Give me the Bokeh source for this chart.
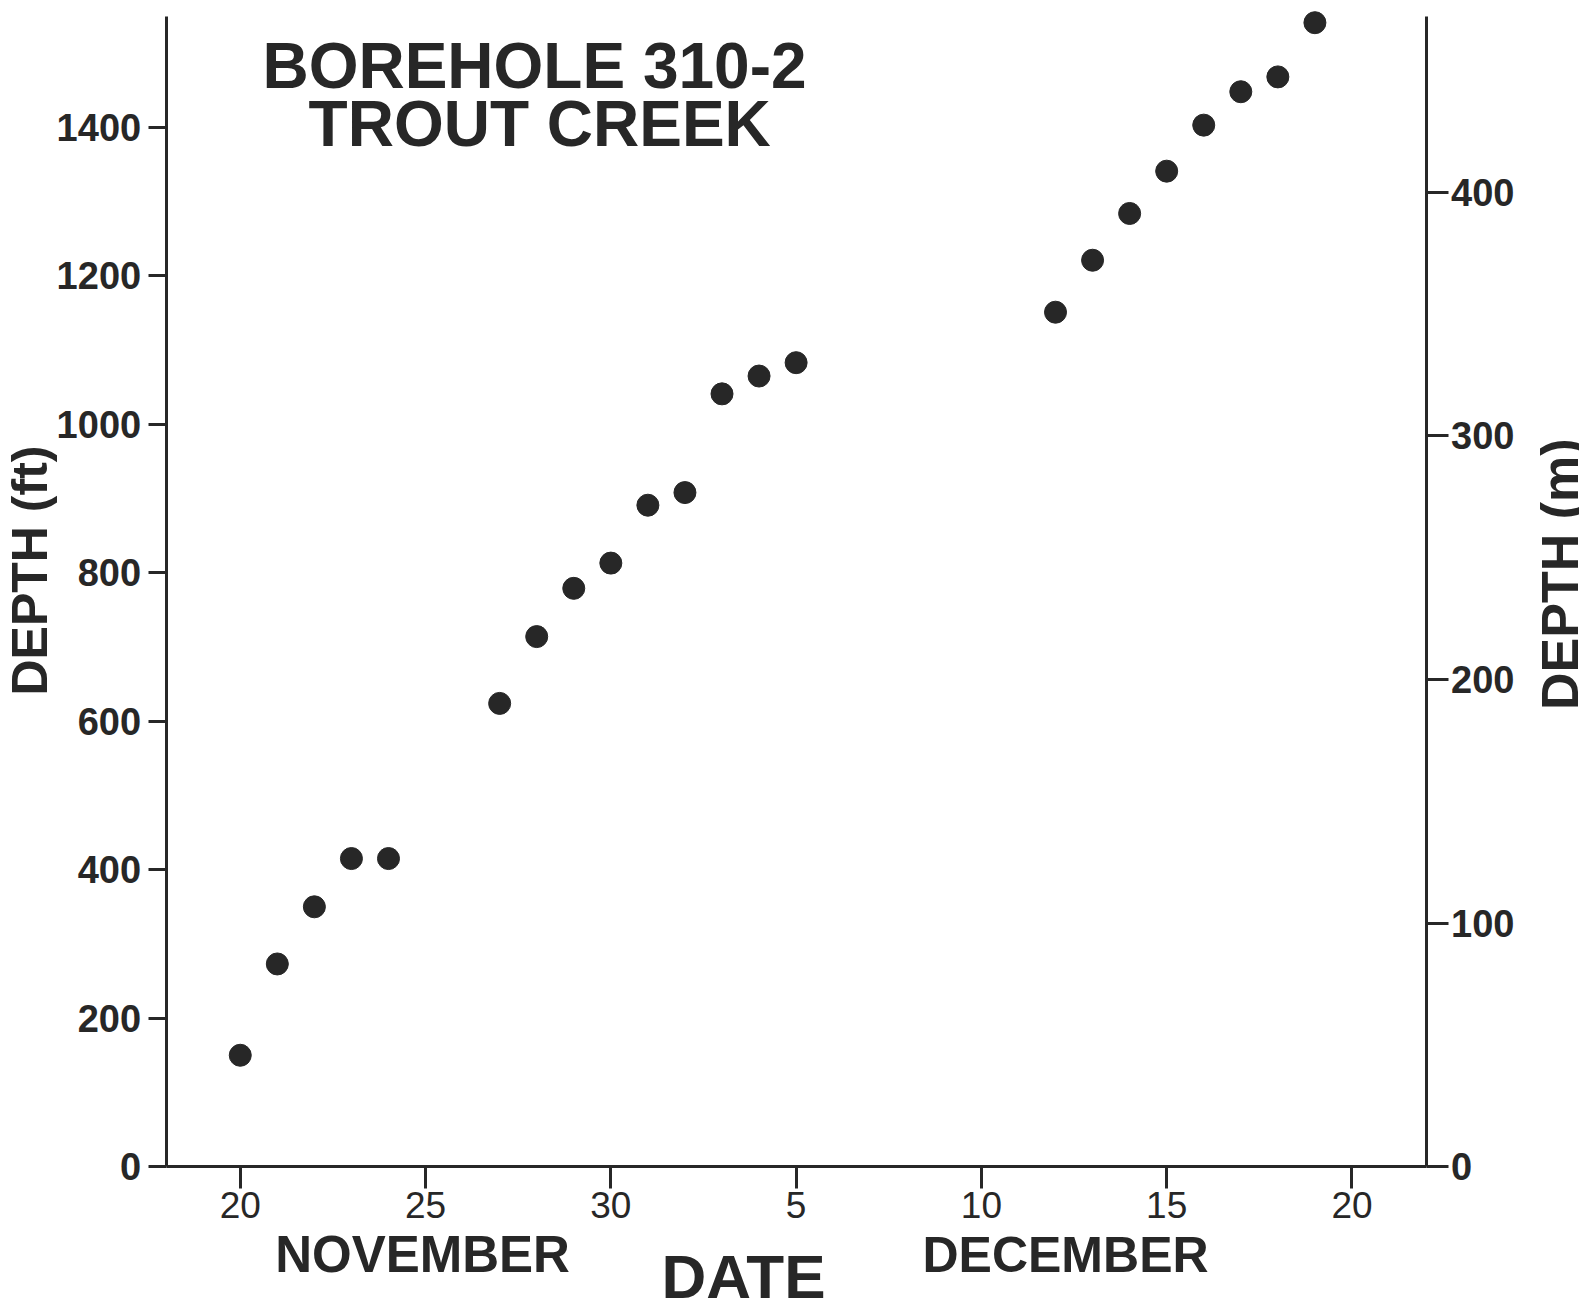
import math
from datetime import date
from bokeh.plotting import figure
from bokeh.models import Range1d, LinearAxis, FixedTicker, Label
from bokeh.embed import file_html
from bokeh.resources import INLINE

# ---- data ----
dates = ["1981-11-20", "1981-11-21", "1981-11-22", "1981-11-23", "1981-11-24",
         "1981-11-27", "1981-11-28", "1981-11-29", "1981-11-30", "1981-12-01",
         "1981-12-02", "1981-12-03", "1981-12-04", "1981-12-05", "1981-12-12",
         "1981-12-13", "1981-12-14", "1981-12-15", "1981-12-16", "1981-12-17",
         "1981-12-18", "1981-12-19"]
depth_ft = [150, 273, 350, 415, 415, 624, 714, 779, 813, 891, 908, 1041, 1065,
            1083, 1151, 1221, 1284, 1341, 1403, 1448, 1468, 1541]
x_ticks = [20, 25, 30, 35, 40, 45, 50]          # days since Oct 31
x_tick_labels = ["20", "25", "30", "5", "10", "15", "20"]
ft_ticks = [0, 200, 400, 600, 800, 1000, 1200, 1400]
m_ticks = [0, 100, 200, 300, 400]
FT_TO_M = 0.3048

origin = date(1981, 10, 31)
days = [(date.fromisoformat(d) - origin).days for d in dates]

INK = "#272727"
FONT = "Liberation Sans"

X0, X1 = 13.53, 56.14          # visible date span (days)
Y0, Y1 = -187.1, 1570.9        # visible depth span (ft)
AX_X0, AX_X1 = 18, 52          # axis extents
AX_Y1 = 1550

p = figure(width=1579, height=1305, x_range=Range1d(X0, X1), y_range=Range1d(Y0, Y1),
           output_backend="svg", toolbar_location=None,
           min_border_left=0, min_border_right=0, min_border_top=0, min_border_bottom=0,
           x_axis_location=None, y_axis_location=None)
p.outline_line_color = None
p.grid.visible = False
p.background_fill_color = "white"
p.border_fill_color = "white"

p.extra_y_ranges = {"m": Range1d(Y0 * FT_TO_M, Y1 * FT_TO_M)}

def style(ax, tick_out, bold=True, standoff=6):
    ax.axis_line_width = 3
    ax.axis_line_color = INK
    ax.major_tick_line_width = 3
    ax.major_tick_line_color = INK
    ax.major_tick_out = tick_out
    ax.major_tick_in = 0
    ax.minor_tick_line_color = None
    ax.major_label_text_font = FONT
    ax.major_label_text_font_size = "38px"
    ax.major_label_text_font_style = "bold" if bold else "normal"
    ax.major_label_text_color = INK
    ax.major_label_standoff = standoff

xa = LinearAxis(ticker=FixedTicker(ticks=x_ticks), fixed_location=0, bounds=(AX_X0, AX_X1),
                major_label_overrides={t: l for t, l in zip(x_ticks, x_tick_labels)})
style(xa, 22, bold=False, standoff=3)
xa.major_label_text_font_size = "37px"
p.add_layout(xa, "below")

ya = LinearAxis(ticker=FixedTicker(ticks=ft_ticks), fixed_location=AX_X0, bounds=(0, AX_Y1))
style(ya, 18, bold=True, standoff=7)
p.add_layout(ya, "left")

ya2 = LinearAxis(y_range_name="m", ticker=FixedTicker(ticks=m_ticks), fixed_location=AX_X1,
                 bounds=(0, AX_Y1 * FT_TO_M))
style(ya2, 22, bold=True, standoff=3)
p.add_layout(ya2, "right")

p.scatter(days, depth_ft, size=22, color=INK, line_color=INK)

def lab(x, y, text, size, angle=0.0, align="center"):
    p.add_layout(Label(x=x, y=y, text=text, text_font=FONT, text_font_style="bold",
                       text_font_size=size, text_color=INK, text_align=align,
                       text_baseline="alphabetic", angle=angle))

lab(27.94, 1482, "BOREHOLE 310-2", "64px")
lab(28.08, 1404, "TROUT CREEK", "64px")
lab(24.92, -118.4, "NOVEMBER", "51px")
lab(42.27, -118.4, "DECEMBER", "50px")
lab(33.58, -148, "DATE", "62px")
lab(14.32, 803, "DEPTH (ft)", "50px", angle=math.pi / 2)
lab(55.62, 798, "DEPTH (m)", "52px", angle=math.pi / 2)

open("out.html", "w").write(file_html(p, INLINE))
